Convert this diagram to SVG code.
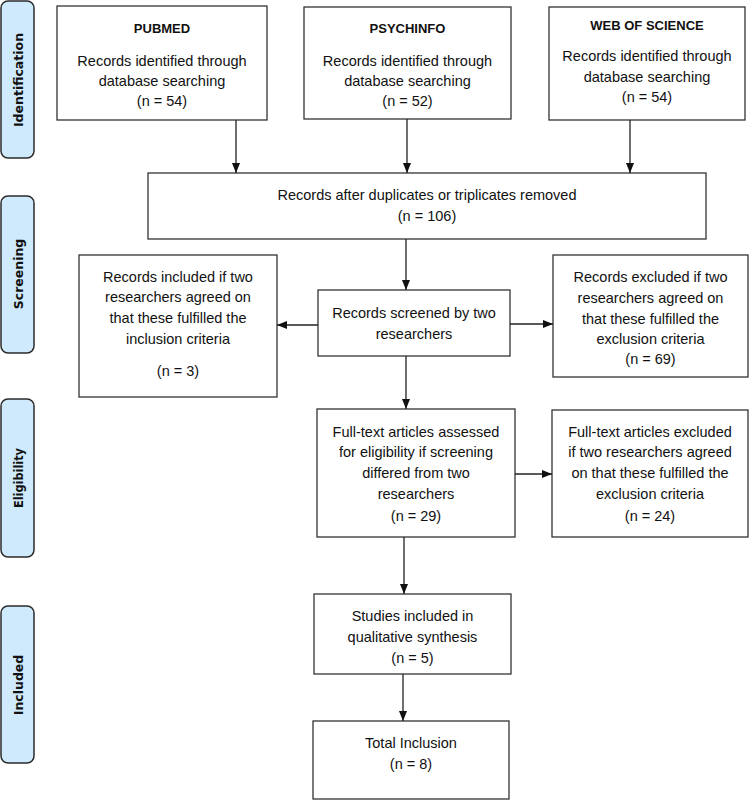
<svg xmlns="http://www.w3.org/2000/svg" width="749" height="800" viewBox="0 0 749 800">
<defs>
<marker id="ah" markerUnits="userSpaceOnUse" markerWidth="10" markerHeight="10" viewBox="0 0 10 10" refX="10" refY="5" orient="auto">
<path d="M0,1 L10,5 L0,9 Z" fill="#111"/>
</marker>
<style>
.lbl rect{fill:#cfeafc;stroke:#2b2b2b;stroke-width:1.5}
.lbl text{font-family:"DejaVu Sans",sans-serif;font-weight:bold;font-size:12.5px;fill:#111;text-anchor:middle;dominant-baseline:central}
.box rect{fill:#fff;stroke:#333;stroke-width:1.3}
.box text{font-family:"Liberation Sans",Arial,sans-serif;font-size:14.5px;fill:#111;text-anchor:middle}
.box text.h{font-weight:bold;font-size:13px}
#connectors line{stroke:#222;stroke-width:1.3;marker-end:url(#ah)}
</style>
</defs>
<rect width="749" height="800" fill="#fff"/>

<g id="lbl-identification" class="lbl"><rect x="1" y="1" width="33" height="157" rx="7"/><text transform="translate(18,80) rotate(-90)">Identification</text></g>
<g id="lbl-screening" class="lbl"><rect x="1" y="196" width="33" height="157" rx="7"/><text transform="translate(18,274) rotate(-90)">Screening</text></g>
<g id="lbl-eligibility" class="lbl"><rect x="1" y="399" width="33" height="158" rx="7"/><text transform="translate(18,478) rotate(-90)" textLength="60" lengthAdjust="spacingAndGlyphs">Eligibility</text></g>
<g id="lbl-included" class="lbl"><rect x="1" y="606" width="33" height="157" rx="7"/><text transform="translate(18,685) rotate(-90)">Included</text></g>

<g id="pubmed" class="box"><rect x="57" y="6" width="210" height="114"/>
<text class="h" x="162" y="33">PUBMED</text>
<text x="162" y="66">Records identified through</text>
<text x="162" y="86">database searching</text>
<text x="162" y="106">(n = 54)</text></g>

<g id="psychinfo" class="box"><rect x="304" y="7" width="207" height="112"/>
<text class="h" x="407.5" y="33">PSYCHINFO</text>
<text x="407.5" y="66">Records identified through</text>
<text x="407.5" y="86">database searching</text>
<text x="407.5" y="106">(n = 52)</text></g>

<g id="wos" class="box"><rect x="549" y="7" width="196" height="113"/>
<text class="h" x="647" y="30">WEB OF SCIENCE</text>
<text x="647" y="61">Records identified through</text>
<text x="647" y="82">database searching</text>
<text x="647" y="102">(n = 54)</text></g>

<g id="dedup" class="box"><rect x="148" y="173" width="558" height="66"/>
<text x="427" y="200">Records after duplicates or triplicates removed</text>
<text x="427" y="221">(n = 106)</text></g>

<g id="screened" class="box"><rect x="318" y="290" width="192" height="66"/>
<text x="414" y="318">Records screened by two</text>
<text x="414" y="339">researchers</text></g>

<g id="included-screen" class="box"><rect x="79" y="255" width="198" height="142"/>
<text x="178" y="282">Records included if two</text>
<text x="178" y="302">researchers agreed on</text>
<text x="178" y="323">that these fulfilled the</text>
<text x="178" y="344">inclusion criteria</text>
<text x="178" y="376">(n = 3)</text></g>

<g id="excluded-screen" class="box"><rect x="553" y="255" width="195" height="122"/>
<text x="650.5" y="282">Records excluded if two</text>
<text x="650.5" y="303">researchers agreed on</text>
<text x="650.5" y="324">that these fulfilled the</text>
<text x="650.5" y="344">exclusion criteria</text>
<text x="650.5" y="364">(n = 69)</text></g>

<g id="assessed" class="box"><rect x="317" y="409" width="198" height="128"/>
<text x="416" y="437">Full-text articles assessed</text>
<text x="416" y="457">for eligibility if screening</text>
<text x="416" y="478">differed from two</text>
<text x="416" y="499">researchers</text>
<text x="416" y="521">(n = 29)</text></g>

<g id="excluded-full" class="box"><rect x="552" y="410" width="196" height="127"/>
<text x="650" y="437">Full-text articles excluded</text>
<text x="650" y="457">if two researchers agreed</text>
<text x="650" y="478">on that these fulfilled the</text>
<text x="650" y="499">exclusion criteria</text>
<text x="650" y="521">(n = 24)</text></g>

<g id="studies" class="box"><rect x="314" y="594" width="197" height="80"/>
<text x="412.5" y="621">Studies included in</text>
<text x="412.5" y="642">qualitative synthesis</text>
<text x="412.5" y="663">(n = 5)</text></g>

<g id="total" class="box"><rect x="313" y="721" width="196" height="78"/>
<text x="411" y="748">Total Inclusion</text>
<text x="411" y="769">(n = 8)</text></g>

<g id="connectors">
<line x1="236" y1="120" x2="236" y2="173"/>
<line x1="407" y1="119" x2="407" y2="173"/>
<line x1="630" y1="120" x2="630" y2="173"/>
<line x1="406" y1="239" x2="406" y2="290"/>
<line x1="318" y1="325" x2="277" y2="325"/>
<line x1="510" y1="324" x2="553" y2="324"/>
<line x1="406" y1="356" x2="406" y2="409"/>
<line x1="515" y1="474" x2="552" y2="474"/>
<line x1="404" y1="537" x2="404" y2="594"/>
<line x1="403" y1="674" x2="403" y2="721"/>
</g>
</svg>
